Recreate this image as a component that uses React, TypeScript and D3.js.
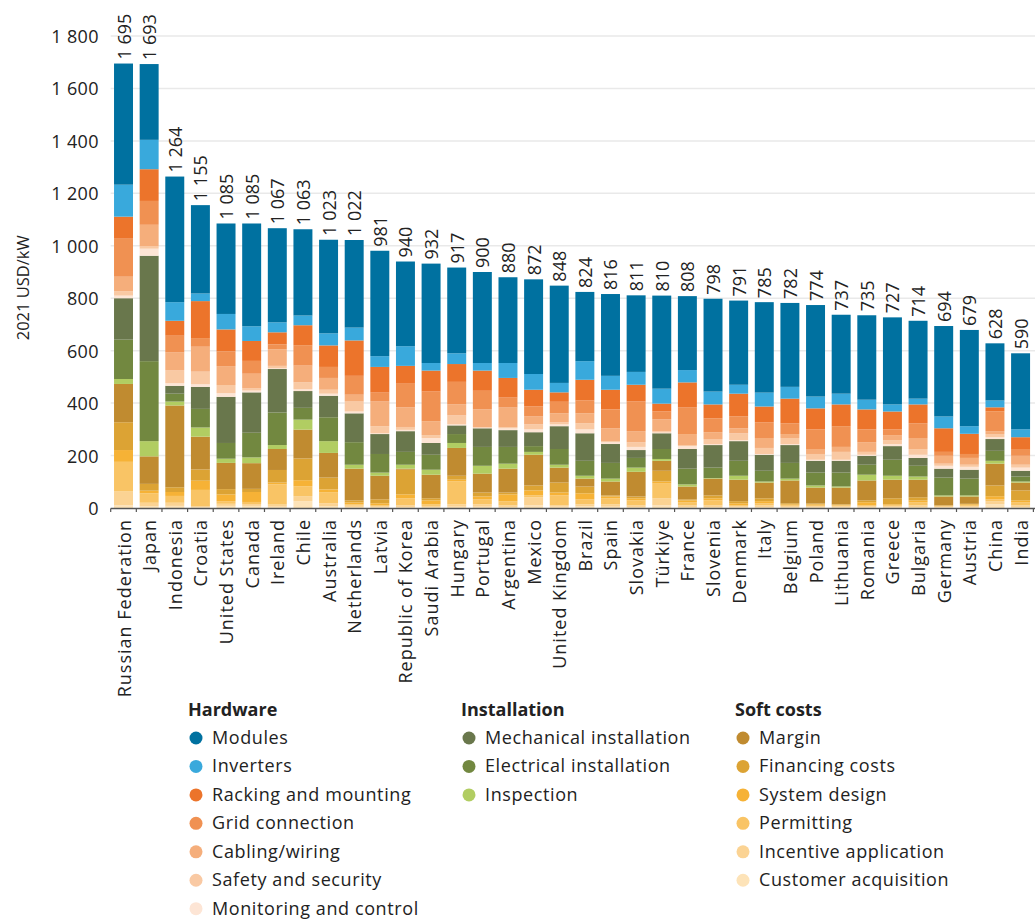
import React from "react";
import * as d3 from "d3";

const countries = ["Russian Federation","Japan","Indonesia","Croatia","United States","Canada","Ireland","Chile","Australia","Netherlands","Latvia","Republic of Korea","Saudi Arabia","Hungary","Portugal","Argentina","Mexico","United Kingdom","Brazil","Spain","Slovakia","Türkiye","France","Slovenia","Denmark","Italy","Belgium","Poland","Lithuania","Romania","Greece","Bulgaria","Germany","Austria","China","India"];
const totals = [1695,1693,1264,1155,1085,1085,1067,1063,1023,1022,981,940,932,917,900,880,872,848,824,816,811,810,808,798,791,785,782,774,737,735,727,714,694,679,628,590];

const modules = [462,289,479,337,345,392,359,329,357,334,402,323,379,327,347,327,361,371,264,312,292,355,282,354,321,345,320,349,301,322,332,297,345,367,218,290];
const inverters = [122,112,71,29,59,56,38,37,46,49,41,75,29,41,29,57,60,36,71,53,49,57,47,49,34,53,45,45,41,37,27,22,45,29,26,30];
const racking = [84,121,57,141,84,76,46,76,82,135,98,68,80,68,77,75,64,36,79,75,64,30,96,53,87,60,94,80,83,76,68,72,90,77,15,45];
const gridConn = [145,91,64,33,56,49,19,78,42,72,34,90,113,86,71,38,38,44,49,72,113,30,101,53,45,60,41,75,79,49,22,56,15,15,76,26];
const cabling = [56,81,67,95,72,56,63,64,45,26,94,75,53,42,68,75,30,34,38,49,42,45,42,26,19,38,15,19,19,37,19,42,30,26,11,34];
const safety = [16,10,50,48,31,8,9,26,15,38,27,11,11,34,2,4,19,8,23,4,18,5,4,19,26,23,23,22,30,11,15,22,8,8,12,11];
const monitoring = [10,27,10,10,14,7,3,7,8,7,3,5,19,4,2,7,11,7,15,7,12,3,11,4,4,3,4,4,4,4,8,12,11,11,7,12];
const mechanical = [158,402,30,84,176,154,166,64,82,110,76,79,45,33,71,64,53,87,105,72,30,60,75,86,75,61,68,45,45,34,52,30,34,34,45,22];
const electrical = [150,305,30,71,60,94,124,45,91,86,71,49,57,34,72,64,22,60,57,60,37,38,60,40,57,41,60,49,53,38,61,41,68,64,38,19];
const inspection = [19,58,15,35,16,22,15,38,45,15,12,15,19,19,30,19,11,11,11,11,16,7,8,2,15,4,7,8,4,22,15,12,4,4,11,4];
const margin = [146,105,312,125,100,98,80,110,94,121,90,4,90,106,72,91,117,57,30,53,94,38,49,64,82,60,87,61,64,76,71,67,34,28,83,30];
const financing = [106,26,18,43,20,12,48,83,45,8,15,94,8,15,15,7,19,38,26,4,7,41,4,11,8,11,4,3,2,7,23,12,1,2,41,38];
const systemDesign = [45,10,15,35,26,38,7,23,12,7,8,15,15,7,11,27,19,11,23,7,8,8,7,8,8,8,3,3,2,12,4,7,2,4,12,7];
const permitting = [113,36,26,62,10,8,77,38,41,5,4,27,6,87,19,15,7,38,19,23,19,56,12,19,3,8,3,4,3,3,3,12,2,3,7,12];
const incentive = [53,14,12,4,8,7,8,19,12,5,3,6,4,9,9,6,31,5,8,9,6,27,6,6,3,6,4,3,3,3,3,6,2,3,12,6];
const customer = [10,6,8,3,8,8,5,26,6,4,3,4,4,5,5,4,10,5,6,5,4,10,4,4,4,4,4,4,4,4,4,4,3,4,14,4];

const yTicks = [0,200,400,600,800,1000,1200,1400,1600,1800];

const groups = [
  { title: "Hardware", items: [
    { name: "Modules", values: modules, color: "#0071a0" },
    { name: "Inverters", values: inverters, color: "#39a9dc" },
    { name: "Racking and mounting", values: racking, color: "#ec742b" },
    { name: "Grid connection", values: gridConn, color: "#f09152" },
    { name: "Cabling/wiring", values: cabling, color: "#f5ae7b" },
    { name: "Safety and security", values: safety, color: "#f9c9a3" },
    { name: "Monitoring and control", values: monitoring, color: "#fde5d5" },
  ]},
  { title: "Installation", items: [
    { name: "Mechanical installation", values: mechanical, color: "#69774c" },
    { name: "Electrical installation", values: electrical, color: "#728840" },
    { name: "Inspection", values: inspection, color: "#b1cd62" },
  ]},
  { title: "Soft costs", items: [
    { name: "Margin", values: margin, color: "#c08b30" },
    { name: "Financing costs", values: financing, color: "#dca334" },
    { name: "System design", values: systemDesign, color: "#f6b236" },
    { name: "Permitting", values: permitting, color: "#f9c465" },
    { name: "Incentive application", values: incentive, color: "#fbd393" },
    { name: "Customer acquisition", values: customer, color: "#fde3b8" },
  ]},
];

const FONT = "'Open Sans', sans-serif";
const fmt = (v: number) => {
  const s = String(v);
  return s.length > 3 ? s.slice(0, s.length - 3) + " " + s.slice(-3) : s;
};

export default function App() {
  const W = 1035, H = 919;
  const allSeries = groups.flatMap((g) => g.items);
  const stackOrder = [...allSeries].reverse();
  const rows = countries.map((c, i) => {
    const r: any = { country: c };
    stackOrder.forEach((s) => (r[s.name] = s.values[i]));
    return r;
  });
  const stacked = d3.stack().keys(stackOrder.map((s) => s.name))(rows);

  const x = d3.scaleBand().domain(countries).range([110.7, 1033.4]).paddingInner(0.26).paddingOuter(0.13);
  const y = d3.scaleLinear().domain([0, 1800]).range([508, 36]);
  const step = x.step();
  const x0 = 110.7;
  const rowH = 28.45;

  return (
    <svg width={W} height={H} style={{ position: "absolute", left: 0, top: 0, background: "#fff" }} fontFamily={FONT}>
      {yTicks.filter((t) => t > 0).map((t) => (
        <line key={t} x1={x0} x2={W} y1={y(t)} y2={y(t)} stroke="#e9e9e9" strokeWidth={1.5} />
      ))}
      {yTicks.map((t) => (
        <text key={"l" + t} x={99} y={y(t)} textAnchor="end" dominantBaseline="central" fontSize={18} letterSpacing={0.4} fill="#222">
          {fmt(t)}
        </text>
      ))}
      <text transform={`translate(22,${y(840)}) rotate(-90)`} textAnchor="middle" dominantBaseline="central" fontSize={16.5} fill="#222">
        2021 USD/kW
      </text>
      {stacked.map((layer, li) => (
        <g key={layer.key} fill={stackOrder[li].color}>
          {layer.map((d, i) => (
            <rect key={i} x={x(countries[i])} width={x.bandwidth()} y={y(d[1])} height={Math.max(0, y(d[0]) - y(d[1]))} />
          ))}
        </g>
      ))}
      <line x1={x0} x2={W} y1={508.5} y2={508.5} stroke="#555" strokeWidth={1.5} />
      {d3.range(countries.length + 1).map((i) => (
        <line key={"t" + i} x1={x0 + i * step} x2={x0 + i * step} y1={508.5} y2={512} stroke="#555" strokeWidth={1.2} />
      ))}
      {countries.map((c, i) => {
        const cx = (x(c) as number) + x.bandwidth() / 2;
        return (
          <g key={c}>
            <text transform={`translate(${cx},${y(totals[i]) - 4}) rotate(-90)`} textAnchor="start" dominantBaseline="central" fontSize={18} fill="#222">
              {fmt(totals[i])}
            </text>
            <text transform={`translate(${cx},519) rotate(-90)`} textAnchor="end" dominantBaseline="central" fontSize={18} letterSpacing={1} fill="#222">
              {c}
            </text>
          </g>
        );
      })}
      {groups.map((g, gi) => {
        const gx = [188, 461, 735][gi];
        return (
          <g key={g.title}>
            <text x={gx} y={709} dominantBaseline="central" fontSize={18} fontWeight={700} fill="#222">{g.title}</text>
            {g.items.map((it, ii) => (
              <g key={it.name}>
                <circle cx={gx + 8} cy={738 + ii * rowH} r={6.5} fill={it.color} />
                <text x={gx + 24} y={737 + ii * rowH} dominantBaseline="central" fontSize={18} letterSpacing={0.6} fill="#222">{it.name}</text>
              </g>
            ))}
          </g>
        );
      })}
    </svg>
  );
}
